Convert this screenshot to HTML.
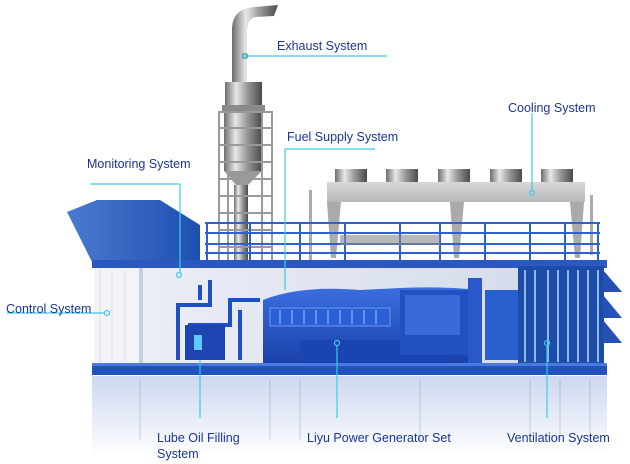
<!DOCTYPE html>
<html><head><meta charset="utf-8"><style>
html,body{margin:0;padding:0;background:#fff;}
svg{display:block}
text{font-family:"Liberation Sans",Arial,sans-serif;font-size:12.5px;fill:#1c3596;}
</style></head><body>
<svg width="630" height="464" viewBox="0 0 630 464" xmlns="http://www.w3.org/2000/svg">
<defs>
<linearGradient id="metal" x1="0" x2="1" y1="0" y2="0">
<stop offset="0" stop-color="#6d6d6d"/><stop offset="0.3" stop-color="#e8e8e8"/><stop offset="0.6" stop-color="#9a9a9a"/><stop offset="1" stop-color="#4a4a4a"/></linearGradient>
<linearGradient id="box" x1="0" x2="0" y1="0" y2="1">
<stop offset="0" stop-color="#d8d8d8"/><stop offset="1" stop-color="#b8b8b8"/></linearGradient>
<linearGradient id="hood" x1="0" x2="1" y1="0" y2="0">
<stop offset="0" stop-color="#4a7ad0"/><stop offset="1" stop-color="#1f4fb0"/></linearGradient>
<linearGradient id="wall" x1="0" x2="1"><stop offset="0" stop-color="#eef0f7"/><stop offset="1" stop-color="#d6dcec"/></linearGradient>
<linearGradient id="refl" x1="0" x2="0" y1="0" y2="1"><stop offset="0" stop-color="#c4d0ec"/><stop offset="1" stop-color="#ffffff"/></linearGradient>
<linearGradient id="eng" x1="0" x2="0" y1="0" y2="1"><stop offset="0" stop-color="#3a6ee0"/><stop offset="1" stop-color="#1840a8"/></linearGradient>
</defs>

<rect x="92" y="376" width="515" height="80" fill="url(#refl)" opacity="0.85"/>
<g opacity="0.3" stroke="#5577bb" stroke-width="1">
<line x1="140" y1="380" x2="140" y2="440"/><line x1="270" y1="380" x2="270" y2="440"/><line x1="300" y1="380" x2="300" y2="440"/><line x1="420" y1="380" x2="420" y2="440"/><line x1="530" y1="380" x2="530" y2="440"/><line x1="560" y1="380" x2="560" y2="440"/><line x1="590" y1="380" x2="590" y2="440"/>
</g>

<path d="M232 82 V30 Q232 8 255 7 L278 5 L274 16 L256 17 Q247 18 247 32 V82 Z" fill="url(#metal)"/>
<rect x="225" y="82" width="37" height="24" fill="url(#metal)"/>
<rect x="222" y="105" width="43" height="6" fill="#8a8a8a"/>
<rect x="224" y="111" width="38" height="60" fill="url(#metal)"/>
<path d="M224 171 L262 171 L248 185 L236 185 Z" fill="#999"/>
<rect x="234" y="185" width="14" height="80" fill="url(#metal)"/>
<g stroke="#9a9a9a" stroke-width="2" fill="none">
<rect x="219" y="112" width="53" height="155"/>
<line x1="228" y1="112" x2="228" y2="267"/><line x1="262" y1="112" x2="262" y2="267"/>
<line x1="219" y1="128" x2="272" y2="128"/><line x1="219" y1="145" x2="272" y2="145"/><line x1="219" y1="162" x2="272" y2="162"/><line x1="219" y1="179" x2="272" y2="179"/><line x1="219" y1="196" x2="272" y2="196"/><line x1="219" y1="213" x2="272" y2="213"/><line x1="219" y1="230" x2="272" y2="230"/><line x1="219" y1="247" x2="272" y2="247"/>
</g>

<g fill="url(#metal)">
<rect x="335" y="169" width="32" height="13"/><rect x="386" y="169" width="32" height="13"/><rect x="438" y="169" width="32" height="13"/><rect x="490" y="169" width="32" height="13"/><rect x="541" y="169" width="32" height="13"/>
</g>
<rect x="327" y="182" width="258" height="20" fill="url(#box)"/>
<path d="M327 202 H341 L336 258 H331 Z" fill="#aaa"/>
<path d="M450 202 H464 L459 258 H454 Z" fill="#aaa"/>
<path d="M570 202 H584 L580 258 H575 Z" fill="#aaa"/>
<rect x="309" y="190" width="3" height="70" fill="#aaa"/>
<rect x="590" y="195" width="3" height="60" fill="#aaa"/>

<g stroke="#2f5fd0" stroke-width="2" fill="none">
<line x1="205" y1="223" x2="600" y2="223"/><line x1="205" y1="233" x2="600" y2="233"/><line x1="205" y1="244" x2="600" y2="244"/><line x1="205" y1="253" x2="600" y2="253"/>
<line x1="207" y1="223" x2="207" y2="262"/><line x1="250" y1="223" x2="250" y2="262"/><line x1="300" y1="223" x2="300" y2="262"/><line x1="345" y1="223" x2="345" y2="262"/><line x1="400" y1="223" x2="400" y2="262"/><line x1="440" y1="223" x2="440" y2="262"/><line x1="485" y1="223" x2="485" y2="262"/><line x1="530" y1="223" x2="530" y2="262"/><line x1="565" y1="223" x2="565" y2="262"/><line x1="598" y1="223" x2="598" y2="262"/>
</g>
<rect x="340" y="235" width="100" height="10" fill="#888" opacity="0.6"/>

<path d="M67 212 L97 200 L160 200 L200 225 L200 262 L92 262 Z" fill="url(#hood)"/>

<rect x="92" y="260" width="515" height="8" fill="#2a58c0"/>
<rect x="94" y="268" width="430" height="97" fill="url(#wall)"/>
<rect x="94" y="268" width="45" height="97" fill="#f4f4f6"/>
<g stroke="#dde0ea" stroke-width="1"><line x1="100" y1="270" x2="100" y2="362"/><line x1="112" y1="270" x2="112" y2="362"/><line x1="125" y1="270" x2="125" y2="362"/></g>
<rect x="139" y="268" width="4" height="97" fill="#c8cde0"/>
<g stroke="#1f4fc8" stroke-width="4" fill="none">
<path d="M178 360 V305 H210 V280"/><path d="M190 360 V325 H230 V300 H260"/><path d="M240 360 V310"/>
<path d="M200 300 V285"/>
</g>
<rect x="185" y="325" width="40" height="35" fill="#1d44b0"/>
<rect x="194" y="335" width="8" height="15" fill="#5ec8ff"/>
<path d="M263 300 Q300 285 360 290 L400 288 Q440 286 480 290 V365 H263 Z" fill="url(#eng)"/>
<rect x="270" y="308" width="120" height="18" fill="#2a5fd8" stroke="#6a9af0" stroke-width="1"/>
<g stroke="#7aa6f4" stroke-width="1.5"><line x1="280" y1="310" x2="280" y2="324"/><line x1="292" y1="310" x2="292" y2="324"/><line x1="304" y1="310" x2="304" y2="324"/><line x1="316" y1="310" x2="316" y2="324"/><line x1="328" y1="310" x2="328" y2="324"/><line x1="340" y1="310" x2="340" y2="324"/><line x1="352" y1="310" x2="352" y2="324"/><line x1="364" y1="310" x2="364" y2="324"/><line x1="376" y1="310" x2="376" y2="324"/></g>
<rect x="300" y="340" width="150" height="22" fill="#1a44b2"/>
<rect x="400" y="290" width="70" height="65" fill="#2150c0"/>
<rect x="405" y="295" width="55" height="40" fill="#3a6ad8"/>
<rect x="468" y="278" width="14" height="85" fill="#2a58c8"/>
<rect x="485" y="290" width="33" height="70" fill="#2a5fd0"/>
<rect x="518" y="266" width="86" height="99" fill="#1e4aa8"/>
<g stroke="#8ab8f0" stroke-width="2">
<line x1="525" y1="270" x2="525" y2="362"/><line x1="535" y1="270" x2="535" y2="362"/><line x1="548" y1="270" x2="548" y2="362"/><line x1="558" y1="270" x2="558" y2="362"/><line x1="568" y1="270" x2="568" y2="362"/><line x1="578" y1="270" x2="578" y2="362"/><line x1="588" y1="270" x2="588" y2="362"/><line x1="598" y1="270" x2="598" y2="362"/>
</g>
<g fill="#2450b8">
<path d="M603 270 L622 292 L603 292 Z"/><path d="M603 295 L622 318 L603 318 Z"/><path d="M603 320 L622 343 L603 343 Z"/>
</g>
<rect x="92" y="363" width="515" height="12" fill="#2252c0"/>
<rect x="92" y="363" width="515" height="3" fill="#4a7ae0"/>

<g stroke="#3ccbea" stroke-width="1.2" fill="none">
<line x1="245" y1="56" x2="387" y2="56"/>
<rect x="243" y="54" width="4" height="4" stroke="#20a0c0"/>
<line x1="532" y1="113" x2="532" y2="191"/><circle cx="532" cy="193" r="2.5"/>
<line x1="285" y1="149" x2="375" y2="149"/><line x1="285" y1="149" x2="285" y2="290"/>
<line x1="90" y1="184" x2="180" y2="184"/><line x1="180" y1="184" x2="180" y2="273"/><circle cx="179" cy="275" r="2.5"/>
<line x1="7" y1="313" x2="104" y2="313"/><circle cx="107" cy="313" r="2.5"/>
<line x1="200" y1="360" x2="200" y2="418"/>
<line x1="337" y1="346" x2="337" y2="418"/><circle cx="337" cy="343" r="2.5"/>
<line x1="547" y1="346" x2="547" y2="418"/><circle cx="547" cy="343" r="2.5"/>
</g>

<text x="277" y="50">Exhaust System</text>
<text x="508" y="112">Cooling System</text>
<text x="287" y="141">Fuel Supply System</text>
<text x="87" y="168">Monitoring System</text>
<text x="6" y="313">Control System</text>
<text x="157" y="442">Lube Oil Filling</text>
<text x="157" y="458">System</text>
<text x="307" y="442">Liyu Power Generator Set</text>
<text x="507" y="442">Ventilation System</text>
</svg>
</body></html>
